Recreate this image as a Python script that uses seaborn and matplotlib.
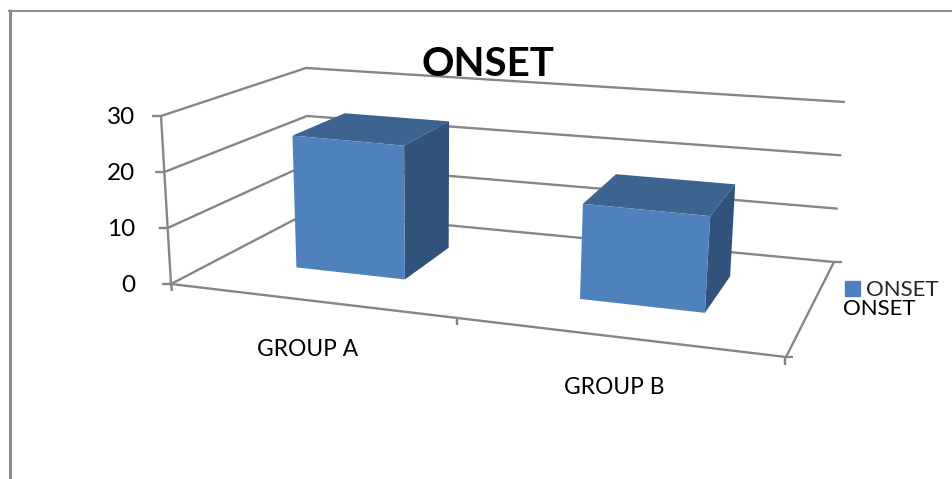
import numpy as np
import matplotlib
matplotlib.use("Agg")
import matplotlib.pyplot as plt
import matplotlib.transforms as mtransforms
from matplotlib.patches import Polygon, Patch
import seaborn as sns

categories = ["GROUP A", "GROUP B"]
onset_values = [24.5, 17]
y_ticks = [0, 10, 20, 30]
series_name = "ONSET"
chart_title = "ONSET"

sns.set_theme(style="white")
plt.rcParams["font.family"] = ["Lato", "DejaVu Sans"]

W, H = 952, 479
fig = plt.figure(figsize=(W / 100, H / 100), dpi=100, facecolor="white")
ax = fig.add_axes([0, 0, 1, 1])

# Pixel space of the image -> display
px = mtransforms.Affine2D().scale(1, -1).translate(0, H)

# The eight corners of the 3D chart box, in image pixels
BOX = {
    (0, 0, 0): (171, 284), (1, 0, 0): (786, 357),
    (0, 0, 1): (309, 212), (1, 0, 1): (834, 262),
    (0, 1, 0): (161, 116), (1, 1, 0): (800, 177),
    (0, 1, 1): (306, 68),  (1, 1, 1): (845, 102),
}
X_MIN, X_MAX = -0.5, 1.5
Y_MAX = y_ticks[-1]
D_FRONT, D_BACK = 0.35, 0.75
PERSPECTIVE = 0.14


def project(x, v, d):
    """Chart coordinates (category position, value, depth 0-1) -> image pixels."""
    x, v = np.asarray(x, float), np.asarray(v, float)
    s = (x - X_MIN) / (X_MAX - X_MIN)
    u, t = s - PERSPECTIVE * s * (1 - s), v / Y_MAX
    out = 0
    for (a, b, c), p in BOX.items():
        weight = (u if a else 1 - u) * (t if b else 1 - t) * (d if c else 1 - d)
        out = out + np.stack([weight * p[0], weight * p[1]], axis=-1)
    return out


class Front(mtransforms.Transform):
    input_dims = output_dims = 2
    is_separable = False

    def __init__(self, bar_depth):
        super().__init__()
        self.bar_depth = bar_depth

    def transform_non_affine(self, values):
        return project(values[:, 0], values[:, 1], self.bar_depth)


GRID = "#868686"
FRONT_C, TOP_C, SIDE_C = "#4F81BD", "#3D638F", "#31527A"
LINE = dict(color=GRID, lw=1.7, transform=px, clip_on=False, zorder=1,
            solid_capstyle="butt")

sns.barplot(x=categories, y=onset_values, color=FRONT_C, saturation=1,
            width=0.4, ax=ax)
ax.set_xlim(X_MIN, X_MAX)
ax.set_ylim(0, Y_MAX)
ax.set_axis_off()

# Walls and floor
for tick in y_ticks:
    a = project(X_MIN, tick, 0)
    b = project(X_MIN, tick, 1)
    c = project(X_MAX, tick, 1)
    ax.plot([a[0] - 9, a[0], b[0], c[0]], [a[1], a[1], b[1], c[1]], **LINE)
lo = project(X_MIN, 0, 0)
hi = project(X_MIN, Y_MAX, 0)
ax.plot([hi[0], lo[0], lo[0] + 1], [hi[1], lo[1], lo[1] + 7], **LINE)
fr = project(X_MAX, 0, 0)
bk = project(X_MAX, 0, 1)
ax.plot([lo[0], fr[0]], [lo[1], fr[1]], **LINE)
ax.plot([fr[0], bk[0], bk[0] + 8], [fr[1], bk[1], bk[1]], **LINE)
ax.plot([fr[0] - 1, fr[0] - 1], [fr[1], fr[1] + 8], **LINE)
ax.plot([fr[0], fr[0] + 7], [fr[1], fr[1]], **LINE)
mid = project((X_MIN + X_MAX) / 2, 0, 0)
ax.plot([mid[0], mid[0]], [mid[1], mid[1] + 7], **LINE)

# Bars: seaborn's rectangles are the front faces; depth faces follow from them
front_tf = Front(D_FRONT) + px
for bar in list(ax.patches):
    x0, x1 = bar.get_x(), bar.get_x() + bar.get_width()
    v = bar.get_height()
    bar.set_transform(front_tf)
    bar.set_clip_on(False)
    bar.set_zorder(4)
    bar.set_linewidth(0)
    top = [project(x0, v, D_FRONT), project(x1, v, D_FRONT),
           project(x1, v, D_BACK), project(x0, v, D_BACK)]
    side = [project(x1, 0, D_FRONT), project(x1, v, D_FRONT),
            project(x1, v, D_BACK), project(x1, 0, D_BACK)]
    ax.add_patch(Polygon(top, closed=True, fc=TOP_C, ec="none", transform=px,
                         clip_on=False, zorder=3))
    ax.add_patch(Polygon(side, closed=True, fc=SIDE_C, ec="none", transform=px,
                         clip_on=False, zorder=3))

# Outer frame of the chart, cut off by the image
FRAME = dict(color="#8C8C8C", transform=px, clip_on=False, zorder=1,
             solid_capstyle="butt")
ax.plot([10, 10], [9, H], lw=2.2, **FRAME)
ax.plot([8, W], [11, 11], lw=1.4, **FRAME)

# Text
TXT = dict(transform=px, color="black", clip_on=False, zorder=6)
for tick in y_ticks:
    ax.text(135, project(X_MIN, tick, 0)[1], str(tick), ha="right",
            va="center_baseline", fontsize=17.5, **TXT)
ax.text(308, 348, categories[0], ha="center", va="center_baseline", fontsize=16.4, **TXT)
ax.text(614, 386, categories[1], ha="center", va="center_baseline", fontsize=16.4, **TXT)
ax.text(488, 61, chart_title, ha="center", va="center_baseline", fontsize=29,
        fontweight="bold", **TXT)
ax.text(843, 307, series_name, ha="left", va="center_baseline", fontsize=16, **TXT)

leg = ax.legend(handles=[Patch(color=FRONT_C, label=series_name)],
                loc="center left", bbox_to_anchor=(845, 290), bbox_transform=px,
                frameon=False, fontsize=16, handlelength=0.68, handleheight=0.68,
                handletextpad=0.28, borderpad=0, borderaxespad=0)
leg.set_zorder(6)

fig.savefig("out.png", dpi=100, facecolor="white")
